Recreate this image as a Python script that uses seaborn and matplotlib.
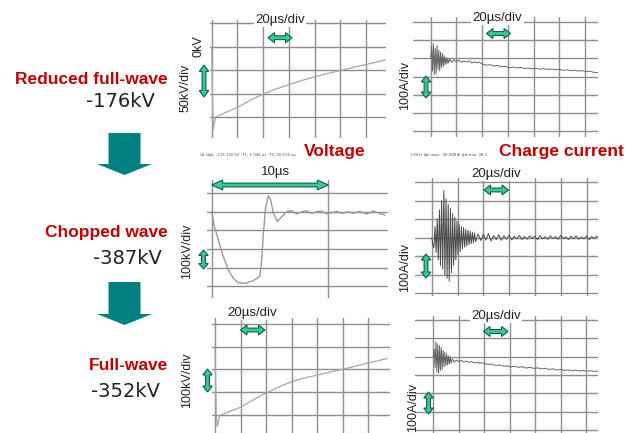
import numpy as np
import pandas as pd
import matplotlib
matplotlib.use("Agg")
import matplotlib.pyplot as plt
import matplotlib.patches as mpatches
import seaborn as sns

# ---------------- data ----------------
# Reduced full-wave voltage (kV vs us)
v1_t = [0, 0.4, 0.8, 1.2, 1.8, 2.5, 3, 10, 20, 30, 40, 50, 60, 70, 80, 90, 100, 110, 120, 135]
v1_kv = [0, -60, -140, -176, -165, -155, -150, -141, -129, -114, -101, -90, -81, -72, -64, -57, -51, -44, -38, -28]

# Chopped wave voltage (kV vs us)
v2_t = [0, 0.2, 0.57, 1.0, 1.43, 1.86, 2.28, 2.86, 3.57, 4.14, 4.29, 4.43, 4.63, 4.86, 5.06, 5.29, 5.63,
        6.0, 6.43, 6.86, 7.29, 7.72, 8.15, 8.58, 9.0, 9.43, 9.86, 10.29, 10.7, 11.15, 11.7, 12.1, 12.7,
        13.3, 13.86, 14.4, 14.86]
v2_kv = [0, -71, -151, -241, -312, -356, -380, -383, -369, -344, -258, -116, 27, 84, 63, -9, -53,
         -27, 0, 5, -12, 0, 5, -9, 0, 4, -12, -5, 2, -9, 0, -9, 2,
         -12, 4, -9, -18]

# Full-wave voltage (kV vs us)
v3_t = [0, 0.5, 1.0, 1.7, 2.4, 3.2, 4.6, 10, 20, 30, 40, 50, 60, 70, 80, 90, 100, 110, 120, 135]
v3_kv = [0, -150, -300, -352, -340, -312, -302, -290, -268, -235, -205, -178, -155, -138, -126, -112, -100, -86, -72, -52]

# Charge currents (A vs us)
i_t = [0, 0.7, 1.4, 2.1, 2.8, 3.5, 4.2, 4.9, 5.6, 6.3, 7.0, 7.7, 8.4, 9.1, 9.8, 10.5, 11.2, 11.9, 12.6, 13.3,
       14.0, 15, 16.5, 18, 20, 22, 24, 26, 28, 30, 32, 34, 36, 38, 40,
       43, 46, 49, 52, 55, 58, 61, 64, 67, 70, 73, 76, 79, 82, 85, 88, 91, 94, 97, 100,
       103, 106, 109, 112, 115, 118, 121, 124, 127, 130]
i1_a = [0, 65, -70, 80, -90, 55, -85, 70, -60, 45, -70, 35, -50, 25, -45, 15, -35, 5, -30, 0,
        -25, -5, -22, -8, -18, -10, -22, -15, -20, -14, -26, -20, -24, -22, -30,
        -38, -35, -42, -39, -47, -44, -52, -48, -53, -50, -56, -53, -58, -55, -60, -57, -61, -59, -63, -61,
        -66, -63, -68, -65, -70, -68, -73, -71, -77, -79]
i3_a = [0, 40, -60, 82, -85, 70, -91, 60, -75, 50, -70, 35, -55, 25, -50, 15, -45, 5, -40, 0,
        -35, -12, -30, -18, -27, -20, -30, -24, -32, -26, -34, -30, -36, -32, -38,
        -42, -40, -48, -45, -52, -50, -56, -53, -58, -55, -62, -58, -64, -61, -67, -63, -70, -66, -73, -70,
        -75, -72, -77, -74, -78, -76, -79, -77, -80, -78]

i2_t = [0, 0.9, 1.7, 2.6, 3.4, 4.3, 5.1, 6.0, 6.8, 7.7, 8.5, 9.4, 10.2, 11.1, 11.9, 12.8, 13.6, 14.5, 15.3,
        16.2, 17.0, 17.9, 18.7, 19.6, 20.4, 21.3, 22.1, 23.0, 23.8, 24.7, 25.5, 26.4, 27.2, 28.1, 28.9,
        29.8, 30.6, 31.5, 32.3, 33.2, 34.0,
        36, 38, 40, 42, 44, 46, 48, 50, 52, 54, 56, 58, 60, 62, 64, 66, 68, 70, 72, 74, 76, 78, 80,
        82, 84, 86, 88, 90, 92, 94, 96, 98, 100, 102, 104, 106, 108, 110, 112, 114, 116, 118, 120,
        122, 124, 126, 128, 130]
i2_a = [0, -35, -55, 60, -80, 100, -120, 150, -150, 200, -170, 255, -200, 210, -220, 180, -235, 160, -190,
        130, -150, 110, -120, 90, -90, 70, -75, 60, -60, 55, -50, 45, -45, 40, -38,
        35, -32, 30, -28, 25, -22,
        20, -15, 18, -12, 22, -18, 12, -10, 16, -14, 10, -8, 14, -12, 8, -6, 12, -10, 6, -8, 10, -4, 8,
        -10, 12, -6, 5, -8, 10, -5, 6, -9, 12, -4, 4, -10, 8, -6, 10, -8, 4, -6,
        9, -10, 6, -4, 8, -6]

# labels
row_titles = ["Reduced full-wave", "Chopped wave", "Full-wave"]
row_values = ["-176kV", "-387kV", "-352kV"]
col_titles = ["Voltage", "Charge current"]
v_scales = ["50kV/div", "100kV/div", "100kV/div"]
i_scale = "100A/div"
time_div = "20\u00b5s/div"
chop_span = "10\u00b5s"
meas_v = "ull Upk: -176.120 kV  T1: 1.942 us  T2: 55.674 us"
meas_i = "LHLU Ipk max: -36.008 A  Ipk min: 38.3"

# ---------------- styling ----------------
sns.set_theme(style="white")
plt.rcParams["font.family"] = ["Liberation Sans", "DejaVu Sans"]

W, H = 626, 433
RED = "#c00000"
TEAL = "#008080"
MINT = "#38c99c"
MINT_EDGE = "#0d5f45"
GRID = "#8e8e8e"

fig = plt.figure(figsize=(W / 100, H / 100), dpi=100)
fig.patch.set_facecolor("white")


def panel(rect_px, t0px, ppt, v0px, ppv, tgrid, vgrid, t, v, color, lw):
    l, r, tp, b = rect_px
    ax = fig.add_axes([l / W, 1 - b / H, (r - l) / W, (b - tp) / H])
    df = pd.DataFrame({"t": t, "v": v})
    sns.lineplot(data=df, x="t", y="v", ax=ax, color=color, lw=lw, estimator=None, sort=False)
    ax.set_xlim((l - t0px) / ppt, (r - t0px) / ppt)
    ax.set_ylim((v0px - b) / ppv, (v0px - tp) / ppv)
    ax.set_xticks(tgrid)
    ax.set_yticks(vgrid)
    ax.tick_params(length=0, labelbottom=False, labelleft=False)
    ax.set_xlabel("")
    ax.set_ylabel("")
    ax.grid(True, color=GRID, lw=1.0)
    ax.set_axisbelow(True)
    for s in ax.spines.values():
        s.set_visible(False)
    ax.set_facecolor("white")
    return ax


tg = [0, 20, 40, 60, 80, 100, 120]
panel((210, 386, 20, 138), 211.7, 1.285, 46.7, 0.47, tg, [50, 0, -50, -100, -150],
      v1_t, v1_kv, "#a6a6a6", 0.9)
panel((413, 598, 17, 137), 430.7, 1.285, 58.3, 0.182, tg, [200, 100, 0, -100, -200, -300, -400],
      i_t, i1_a, "#666666", 0.7)
panel((207, 388, 180, 298), 211.7, 11.66, 211.7, 0.187, [0, 10], [100, 0, -100, -200, -300, -400],
      v2_t, v2_kv, "#9a9a9a", 1.0)
panel((415, 598, 178, 296), 431.7, 1.29, 237.7, 0.185, tg, [300, 200, 100, 0, -100, -200, -300],
      i2_t, i2_a, "#4a4a4a", 0.7)
panel((212, 390, 318, 433), 215.0, 1.2775, 346.7, 0.226, tg, [100, 0, -100, -200, -300],
      v3_t, v3_kv, "#a6a6a6", 0.9)
panel((415, 598, 316, 433), 433.3, 1.273, 356.7, 0.183, tg, [200, 100, 0, -100, -200, -300, -400],
      i_t, i3_a, "#666666", 0.7)

# ---------------- overlay (annotations in pixel space) ----------------
ov = fig.add_axes([0, 0, 1, 1], zorder=10)
ov.set_xlim(0, W)
ov.set_ylim(H, 0)
ov.axis("off")
ov.patch.set_alpha(0)


def dbl_arrow(x0, y0, x1, y1, shaft=3.8, head=10.0, hl=6.5):
    p0 = np.array([x0, y0], float)
    p1 = np.array([x1, y1], float)
    u = (p1 - p0) / np.hypot(*(p1 - p0))
    n = np.array([-u[1], u[0]])
    b0 = p0 + hl * u
    b1 = p1 - hl * u
    pts = [p0, b0 + head / 2 * n, b0 + shaft / 2 * n, b1 + shaft / 2 * n, b1 + head / 2 * n, p1,
           b1 - head / 2 * n, b1 - shaft / 2 * n, b0 - shaft / 2 * n, b0 - head / 2 * n]
    ov.add_patch(mpatches.Polygon(pts, closed=True, fc=MINT, ec=MINT_EDGE, lw=0.8, joinstyle="miter"))


def time_label(x, y, s):
    ov.text(x, y, s, ha="center", va="center", fontsize=9.5, color="#222222",
            bbox=dict(fc="white", ec="none", pad=1.0))


def scale_label(x, y, s):
    ov.text(x, y, s, ha="center", va="center", fontsize=9, rotation=90, color="#222222")


# time-per-div labels and horizontal arrows
time_label(280, 20, time_div)
dbl_arrow(268, 37.7, 292, 37.7)
time_label(497.5, 18, time_div)
dbl_arrow(486.5, 33.5, 510.5, 33.5)
time_label(276, 172, chop_span)
dbl_arrow(211.7, 185, 328.3, 185, head=10, hl=11)
time_label(496, 174, time_div)
dbl_arrow(484, 190, 508.5, 190)
time_label(252, 313, time_div)
dbl_arrow(240.5, 330, 265, 330)
time_label(496, 316, time_div)
dbl_arrow(483.5, 331.5, 508, 331.5)

# vertical scale labels and arrows
scale_label(198, 46, "0kV")
scale_label(186, 88, v_scales[0])
dbl_arrow(204, 65, 204, 97, head=9.5)
scale_label(187, 251, v_scales[1])
dbl_arrow(203.5, 250, 203.5, 269, head=9.5, hl=5.5)
scale_label(187, 380, v_scales[2])
dbl_arrow(207.5, 369, 207.5, 392, head=9.5, hl=6)

scale_label(405, 85, i_scale)
dbl_arrow(426, 76, 426, 98, head=9.5, hl=6)
scale_label(405, 268, i_scale)
dbl_arrow(426, 254, 426, 278, head=9.5, hl=6)
scale_label(413, 407, i_scale)
dbl_arrow(428.5, 392, 428.5, 414, head=9.5, hl=6)

# measurement header lines
ov.text(200, 155, meas_v, ha="left", va="center", fontsize=3.2, color="#555555")
ov.text(411, 155, meas_i, ha="left", va="center", fontsize=3.2, color="#555555")

# column titles
ov.text(335, 156, col_titles[0], ha="center", va="baseline", fontsize=12.5, fontweight="bold", color=RED)
ov.text(561, 156, col_titles[1], ha="center", va="baseline", fontsize=12.5, fontweight="bold", color=RED)

# row titles and values
row_ys = [83.5, 237, 370]
val_ys = [107, 263.5, 397]
val_rx = [155, 162, 160]
for s, yv in zip(row_titles, row_ys):
    ov.text(168, yv, s, ha="right", va="baseline", fontsize=12.5, fontweight="bold", color=RED)
for s, yv, rx in zip(row_values, val_ys, val_rx):
    ov.text(rx, yv, s, ha="right", va="baseline", fontsize=14, color="#222222",
            family=["DejaVu Sans"])

# teal down arrows between rows
for ytop, ytip in [(133, 175), (282, 325)]:
    ov.add_patch(mpatches.FancyArrow(124.5, ytop, 0, ytip - ytop, width=32, head_width=55,
                                     head_length=11, length_includes_head=True,
                                     fc=TEAL, ec="none"))

fig.savefig("out.png", dpi=100, facecolor="white")
